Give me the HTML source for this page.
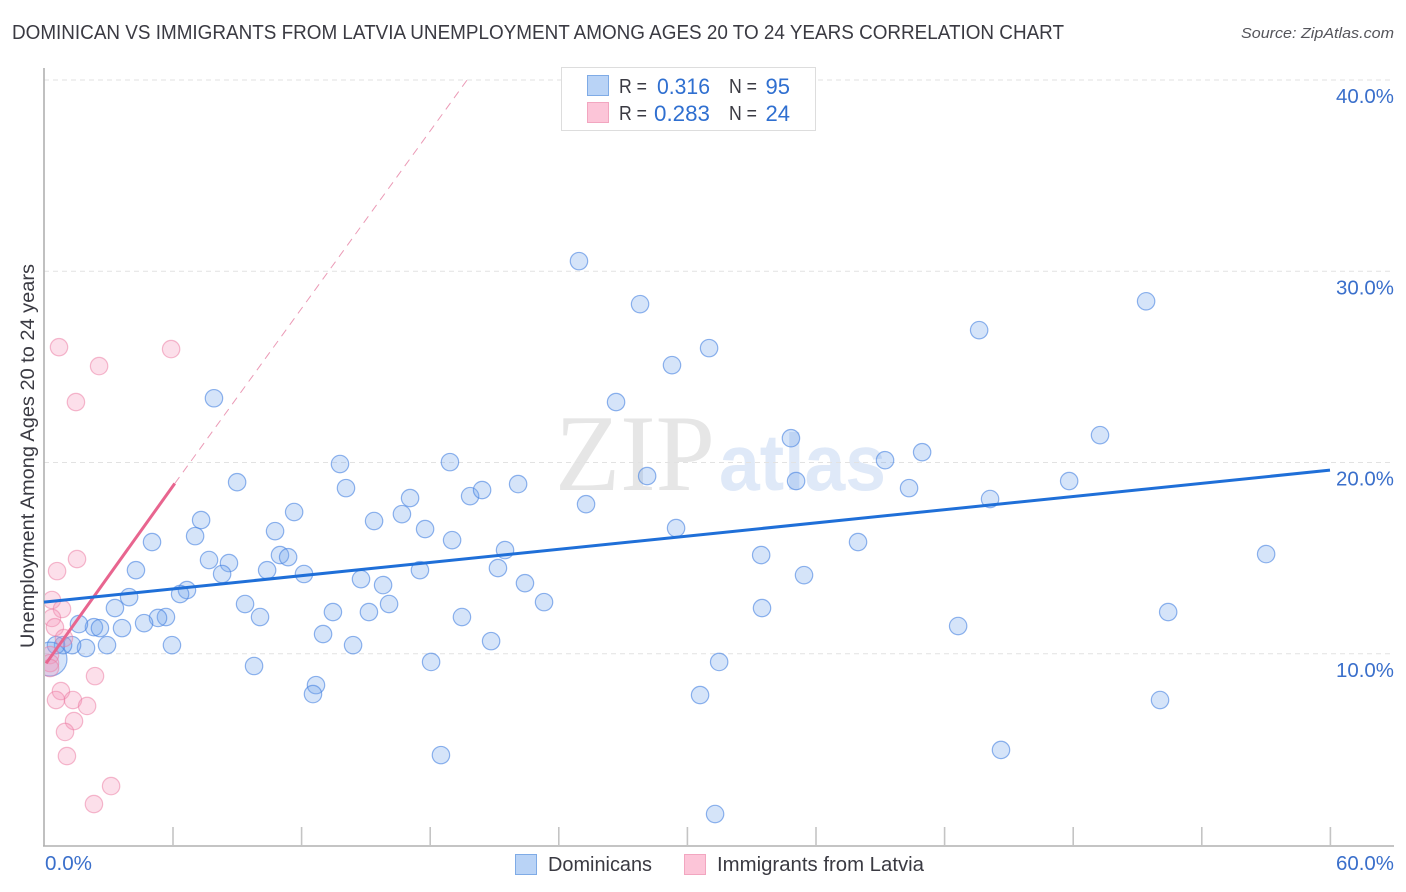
<!DOCTYPE html>
<html lang="en">
<head>
<meta charset="utf-8">
<title>Dominican vs Immigrants from Latvia Unemployment Chart</title>
<style>
html,body{margin:0;padding:0;background:#fff;}
svg{display:block;font-family:"Liberation Sans",sans-serif;}
</style>
</head>
<body>
<svg id="chart" xmlns="http://www.w3.org/2000/svg" width="1406" height="892" viewBox="0 0 1406 892">
  <defs>
    <clipPath id="plot-clip"><rect x="45" y="68" width="1349" height="777"/></clipPath>
  </defs>
  <rect x="0" y="0" width="1406" height="892" fill="#ffffff"/>
  <text x="12" y="39" font-size="20" fill="#3a3a42" textLength="1052" lengthAdjust="spacingAndGlyphs">DOMINICAN VS IMMIGRANTS FROM LATVIA UNEMPLOYMENT AMONG AGES 20 TO 24 YEARS CORRELATION CHART</text>
  <text x="1241" y="38" font-size="15" font-style="italic" fill="#55555b" textLength="153" lengthAdjust="spacingAndGlyphs">Source: ZipAtlas.com</text>

  <text x="555" y="490" font-family="'Liberation Serif',serif" font-size="109" fill="#e6e6e6" textLength="160" lengthAdjust="spacingAndGlyphs">ZIP</text>
  <text x="719" y="490" font-family="'Liberation Sans',sans-serif" font-weight="700" font-size="80" fill="#dfe9f8" textLength="167" lengthAdjust="spacingAndGlyphs">atlas</text>

  <g id="grid"></g>
  <g id="axes"></g>
  <g id="points" clip-path="url(#plot-clip)"></g>
  <g id="trends"></g>
  <g id="labels"></g>

  <text transform="translate(34,456) rotate(-90)" font-size="19.5" fill="#3a3a42" text-anchor="middle" textLength="384" lengthAdjust="spacingAndGlyphs">Unemployment Among Ages 20 to 24 years</text>

  <g>
    <rect x="561.5" y="67.5" width="254" height="63" fill="#ffffff" stroke="#dddddd" stroke-width="1"/>
    <rect x="587.5" y="75.5" width="21" height="20" fill="#b9d3f6" stroke="#7fabe6" stroke-width="1"/>
    <rect x="587.5" y="102.5" width="21" height="20" fill="#fcc5d8" stroke="#f2a6c0" stroke-width="1"/>
    <text x="619" y="93" font-size="20" fill="#3a3a42" textLength="28" lengthAdjust="spacingAndGlyphs">R =</text>
    <text x="657" y="94" font-size="22" fill="#2f6fd0" textLength="53" lengthAdjust="spacingAndGlyphs">0.316</text>
    <text x="729" y="93" font-size="20" fill="#3a3a42" textLength="28" lengthAdjust="spacingAndGlyphs">N =</text>
    <text x="790" y="94" font-size="22" fill="#2f6fd0" text-anchor="end">95</text>
    <text x="619" y="120" font-size="20" fill="#3a3a42" textLength="28" lengthAdjust="spacingAndGlyphs">R =</text>
    <text x="654" y="121" font-size="22" fill="#2f6fd0" textLength="56" lengthAdjust="spacingAndGlyphs">0.283</text>
    <text x="729" y="120" font-size="20" fill="#3a3a42" textLength="28" lengthAdjust="spacingAndGlyphs">N =</text>
    <text x="790" y="121" font-size="22" fill="#2f6fd0" text-anchor="end">24</text>
  </g>

  <g>
    <rect x="515.5" y="854.5" width="21" height="20" fill="#b9d3f6" stroke="#7fabe6" stroke-width="1"/>
    <text x="548" y="871" font-size="20" fill="#3a3a42" textLength="104" lengthAdjust="spacingAndGlyphs">Dominicans</text>
    <rect x="684.5" y="854.5" width="21" height="20" fill="#fcc5d8" stroke="#f2a6c0" stroke-width="1"/>
    <text x="717" y="871" font-size="20" fill="#3a3a42" textLength="207" lengthAdjust="spacingAndGlyphs">Immigrants from Latvia</text>
  </g>
</svg>
<script>
const xTickValues = [0, 6, 12, 18, 24, 30, 36, 42, 48, 54, 60];
const yGridValues = [10, 20, 30, 40];
const yTickLabels = ['10.0%', '20.0%', '30.0%', '40.0%'];
const xEndLabels = ['0.0%', '60.0%'];

const dominicanX = [24.96,27.81,29.30,31.03,26.69,43.63,51.42,49.27,34.85,7.93,13.81,18.94,9.01,14.09,11.67,7.33,10.78,7.05,5.04,7.70,8.63,8.31,11.01,11.39,10.41,12.13,4.29,6.67,6.35,3.97,3.31,9.38,10.08,13.48,15.16,14.79,15.82,16.10,15.40,16.70,17.08,17.78,19.04,17.54,19.88,20.44,22.12,21.51,21.18,22.44,23.33,19.50,20.86,18.06,14.42,13.02,12.69,12.55,9.80,5.97,5.69,5.32,4.67,3.64,2.33,2.61,1.63,1.96,2.94,1.31,0.89,0.56,0.28,18.52,25.29,28.14,29.49,33.46,33.50,35.46,35.09,39.24,40.97,40.36,44.14,47.83,37.98,42.65,31.50,30.61,31.31,44.65,52.07,52.45,57.02];
const dominicanY = [30.53,28.28,25.09,25.98,23.16,26.92,28.43,21.43,21.27,23.36,19.92,20.02,18.97,18.66,17.41,16.99,16.41,16.15,15.84,14.90,14.74,14.17,15.16,15.05,14.37,14.17,14.37,13.33,13.12,12.96,12.39,12.60,11.92,12.18,12.18,13.90,13.59,12.60,16.94,17.30,18.14,16.52,15.94,14.37,18.24,18.56,18.87,15.42,14.48,13.69,12.70,11.92,10.66,9.57,10.45,11.03,8.36,7.89,9.36,10.45,11.92,11.87,11.60,11.34,11.39,11.34,11.55,10.30,10.45,10.45,10.45,10.45,9.72,4.70,17.82,19.29,16.57,15.16,12.39,14.11,19.03,20.12,20.54,18.66,18.09,19.03,15.84,11.45,9.57,7.84,1.62,4.97,7.58,12.18,15.21];
const dominicanWeight = [1,1,1,1,1,1,1,1,1,1,1,1,1,1,1,1,1,1,1,1,1,1,1,1,1,1,1,1,1,1,1,1,1,1,1,1,1,1,1,1,1,1,1,1,1,1,1,1,1,1,1,1,1,1,1,1,1,1,1,1,1,1,1,1,1,1,1,1,1,1,1,1,3.8,1,1,1,1,1,1,1,1,1,1,1,1,1,1,1,1,1,1,1,1,1,1];

const latviaX = [0.70,2.57,5.93,1.49,1.54,0.61,0.37,0.84,0.37,0.51,0.93,0.28,0.28,0.28,2.38,0.79,0.56,1.35,2.01,1.40,0.98,1.07,3.13,2.33];
const latviaY = [26.03,25.04,25.93,23.16,14.95,14.32,12.81,12.34,11.87,11.39,10.82,9.93,9.51,9.25,8.83,8.05,7.58,7.58,7.27,6.48,5.91,4.65,3.08,2.14];

const dominicanTrendX = [0, 60];
const dominicanTrendY = [12.7, 19.6];
const latviaTrendX = [0.1, 6.1];
const latviaTrendY = [9.5, 18.9];
const latviaProjectionX = [6.1, 19.74];
const latviaProjectionY = [18.9, 40];

const SVGNS = 'http://www.w3.org/2000/svg';
function xScale(v) { return 44 + v * (1330 - 44) / 60; }
function yScale(v) { return 845 - v * (845 - 80) / 40; }
function make(tag, parent, attrs) {
  const el = document.createElementNS(SVGNS, tag);
  for (const k in attrs) { el.setAttribute(k, attrs[k]); }
  document.getElementById(parent).appendChild(el);
  return el;
}

yGridValues.forEach(function (v, i) {
  const line = make('line', 'grid', { x1: 44, x2: 1394, y1: yScale(v), y2: yScale(v), stroke: '#e2e2e2', 'stroke-width': 1, 'stroke-dasharray': '5 4' });
  
  
  const label = make('text', 'labels', { x: 1336, y: yScale(v) + 23, 'font-size': 20, fill: '#3a6fcb', textLength: 58, lengthAdjust: 'spacingAndGlyphs' });
  label.textContent = yTickLabels[i];
  
  
});

const yAxis = make('line', 'axes', { x1: 44, x2: 44, y1: 68, y2: 846, stroke: '#b0b0b0', 'stroke-width': 1.6 });


const xAxis = make('line', 'axes', { x1: 43, x2: 1394, y1: 846, y2: 846, stroke: '#b0b0b0', 'stroke-width': 1.6 });


xTickValues.slice(1).forEach(function (v) {
  const tick = make('line', 'axes', { x1: xScale(v) + 0.4, x2: xScale(v) + 0.4, y1: 827, y2: 846, stroke: '#c4c4c4', 'stroke-width': 1.6 });
  
  
});

const xLabelLeft = make('text', 'labels', { x: xScale(0) + 1, y: 870, 'font-size': 20, fill: '#3a6fcb', textLength: 47, lengthAdjust: 'spacingAndGlyphs' });
xLabelLeft.textContent = xEndLabels[0];


const xLabelRight = make('text', 'labels', { x: 1336, y: 870, 'font-size': 20, fill: '#3a6fcb', textLength: 58, lengthAdjust: 'spacingAndGlyphs' });
xLabelRight.textContent = xEndLabels[1];



dominicanX.forEach(function (v, i) {
  const weight = dominicanWeight[i];
  const r = 8.7 * Math.sqrt(weight);
  const c = make('circle', 'points', { cx: xScale(v), cy: yScale(dominicanY[i]), r: r, fill: 'rgba(115,165,235,0.3)', stroke: 'rgba(70,130,225,0.6)', 'stroke-width': 1.2 });
  
  
});
latviaX.forEach(function (v, i) {
  const c = make('circle', 'points', { cx: xScale(v), cy: yScale(latviaY[i]), r: 8.7, fill: 'rgba(245,150,185,0.3)', stroke: 'rgba(235,120,160,0.5)', 'stroke-width': 1.2 });
  
  
});

const projection = make('line', 'trends', { x1: xScale(latviaProjectionX[0]), y1: yScale(latviaProjectionY[0]), x2: xScale(latviaProjectionX[1]), y2: yScale(latviaProjectionY[1]), stroke: '#eb9ab6', 'stroke-width': 1, 'stroke-dasharray': '8 6' });


const latviaTrend = make('line', 'trends', { x1: xScale(latviaTrendX[0]), y1: yScale(latviaTrendY[0]), x2: xScale(latviaTrendX[1]), y2: yScale(latviaTrendY[1]), stroke: '#e8658f', 'stroke-width': 3 });


const dominicanTrend = make('line', 'trends', { x1: xScale(dominicanTrendX[0]), y1: yScale(dominicanTrendY[0]), x2: xScale(dominicanTrendX[1]), y2: yScale(dominicanTrendY[1]), stroke: '#1f6fd8', 'stroke-width': 3 });


</script>
</body>
</html>
